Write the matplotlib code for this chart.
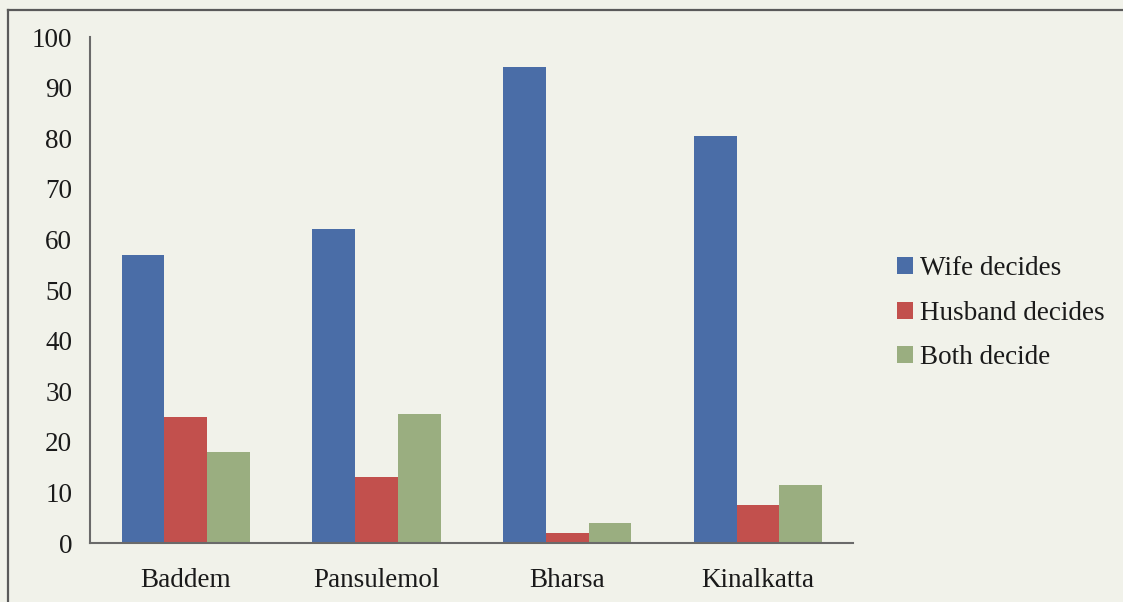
import matplotlib
matplotlib.use("Agg")
import matplotlib.pyplot as plt
from matplotlib.lines import Line2D
import numpy as np

villages = ["Baddem", "Pansulemol", "Bharsa", "Kinalkatta"]
wife_decides = [57, 62, 94, 80.5]
husband_decides = [25, 13, 2, 7.5]
both_decide = [18, 25.5, 4, 11.5]
series_names = ["Wife decides", "Husband decides", "Both decide"]
y_ticks = [0, 10, 20, 30, 40, 50, 60, 70, 80, 90, 100]

colors = ["#4a6da7", "#c2504d", "#9aae80"]
bg = "#f1f2ea"

plt.rcParams["font.family"] = ["Liberation Serif", "DejaVu Serif"]

fig = plt.figure(figsize=(11.23, 6.02), dpi=100, facecolor=bg)
ax = fig.add_axes([0.0805, 0.098, 0.6795, 0.8405])
ax.set_facecolor(bg)

x = np.arange(len(villages))
width = 0.224
for i, (vals, name) in enumerate(zip([wife_decides, husband_decides, both_decide], series_names)):
    ax.bar(x + (i - 1) * width, vals, width, color=colors[i], label=name, zorder=2)

ax.set_xlim(-0.5, len(villages) - 0.5)
ax.set_ylim(0, 100)
ax.set_yticks(y_ticks)
ax.set_yticklabels([str(t) for t in y_ticks], fontsize=19.5, color="#1a1a1a")
ax.set_xticks(x)
ax.set_xticklabels(villages, fontsize=19.5, color="#1a1a1a")
ax.tick_params(axis="y", length=0, pad=13)
ax.tick_params(axis="x", length=0, pad=18)

for side in ["top", "right"]:
    ax.spines[side].set_visible(False)
for side in ["left", "bottom"]:
    ax.spines[side].set_color("#6a6a6a")
    ax.spines[side].set_linewidth(1.5)

leg = fig.legend(loc="upper left", bbox_to_anchor=(0.7815, 0.606), frameon=False,
                 fontsize=19.5, handlelength=0.6, handleheight=0.6, handletextpad=0.25,
                 labelspacing=0.72, borderpad=0.2)
for t in leg.get_texts():
    t.set_color("#1a1a1a")

# outer frame (top and left edges)
fig.add_artist(Line2D([8 / 1123, 1.0], [1 - 10 / 602, 1 - 10 / 602],
                      transform=fig.transFigure, color="#5a5a5a", lw=1.6))
fig.add_artist(Line2D([8 / 1123, 8 / 1123], [0.0, 1 - 10 / 602],
                      transform=fig.transFigure, color="#5a5a5a", lw=1.6))

fig.savefig("out.png", dpi=100, facecolor=bg)
